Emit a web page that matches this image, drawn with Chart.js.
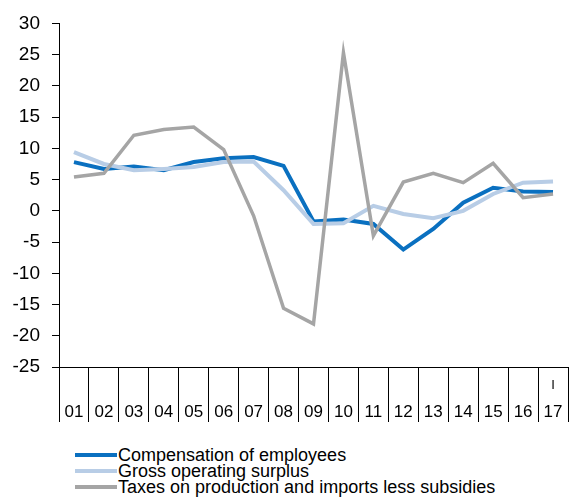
<!DOCTYPE html>
<html>
<head>
<meta charset="utf-8">
<script src="https://cdn.jsdelivr.net/npm/chart.js@4.4.1/dist/chart.umd.min.js"></script>
<style>
    body { margin: 0; background: #fff; }
    #wrap { position: relative; width: 569px; height: 500px; overflow: hidden; }
    #legend { position: absolute; left: 75px; top: 447px; font-family: "Liberation Sans", Arial, sans-serif; font-size: 18px; line-height: 16px; color: #000; }
    .item { display: flex; align-items: center; white-space: nowrap; }
    .swatch { display: inline-block; width: 42px; height: 4px; margin-right: 1px; }
</style>
</head>
<body>
<div id="wrap">
    <canvas id="chart" width="569" height="430"></canvas>
    <div id="legend"></div>
</div>
<script>
// years 2001..2016 and quarter I of 2017
const categories = ['01', '02', '03', '04', '05', '06', '07', '08', '09', '10', '11', '12', '13', '14', '15', '16', '17'];
const quarterMarks = ['', '', '', '', '', '', '', '', '', '', '', '', '', '', '', '', 'I'];

const compensation = [7.8, 6.7, 7.1, 6.5, 7.8, 8.4, 8.6, 7.2, -1.7, -1.4, -2.1, -6.2, -2.9, 1.3, 3.7, 3.1, 3.0];
const grossSurplus = [9.4, 7.5, 6.5, 6.7, 7.0, 7.8, 7.9, 3.3, -2.1, -2.0, 0.8, -0.5, -1.2, 0.0, 2.7, 4.5, 4.7];
const taxesLessSubsidies = [5.4, 6.0, 12.1, 13.0, 13.4, 9.8, -0.8, -15.6, -18.1, 25.3, -4.0, 4.6, 6.0, 4.5, 7.6, 2.1, 2.7];

const yTicks = [30, 25, 20, 15, 10, 5, 0, -5, -10, -15, -20, -25];

const seriesNames = ['Compensation of employees', 'Gross operating surplus', 'Taxes on production and imports less subsidies'];
const seriesColors = ['#0A70C0', '#B8CDE6', '#A5A5A5'];

const fontFamily = '"Liberation Sans", Arial, sans-serif';

// draws the small quarter mark above a category label
const quarterPlugin = {
    id: 'quarterMarks',
    afterDraw(chart) {
        const ctx = chart.ctx;
        const xScale = chart.scales.x;
        ctx.save();
        ctx.font = '13px ' + fontFamily;
        ctx.fillStyle = '#000';
        ctx.textAlign = 'center';
        ctx.textBaseline = 'middle';
        quarterMarks.forEach((m, i) => {
            if (m) ctx.fillText(m, xScale.getPixelForValue(i), xScale.top + 18);
        });
        ctx.restore();
    }
};

const datasets = [compensation, grossSurplus, taxesLessSubsidies].map((vals, i) => ({
    label: seriesNames[i],
    data: vals,
    borderColor: seriesColors[i],
    backgroundColor: seriesColors[i],
    borderWidth: i === 2 ? 3.5 : 4,
    pointRadius: 0,
    tension: 0,
    order: 2 - i // last series drawn on top
}));

new Chart(document.getElementById('chart').getContext('2d'), {
    type: 'line',
    data: { labels: categories, datasets: datasets },
    options: {
        responsive: false,
        animation: false,
        layout: { padding: { top: 21, right: 1, left: 0, bottom: 0 } },
        plugins: {
            legend: { display: false },
            tooltip: { enabled: false }
        },
        scales: {
            x: {
                offset: true,
                grid: {
                    offset: true,
                    drawOnChartArea: false,
                    drawTicks: true,
                    tickLength: 55,
                    tickColor: '#000',
                    tickWidth: 1
                },
                border: { display: true, color: '#000', width: 1 },
                ticks: {
                    color: '#000',
                    font: { family: fontFamily, size: 17 },
                    padding: -20,
                    maxRotation: 0,
                    autoSkip: false
                },
                afterFit(scale) { scale.height = 63; }
            },
            y: {
                min: -25,
                max: 30,
                afterBuildTicks(scale) { scale.ticks = yTicks.map(v => ({ value: v })); },
                grid: {
                    drawOnChartArea: false,
                    drawTicks: true,
                    tickLength: 7,
                    tickColor: '#000'
                },
                border: { display: true, color: '#000', width: 1 },
                ticks: {
                    color: '#000',
                    font: { family: fontFamily, size: 19 },
                    padding: 12
                },
                afterFit(scale) { scale.width = 59; }
            }
        }
    },
    plugins: [quarterPlugin]
});

// legend as html text, one row per series
const legend = document.getElementById('legend');
seriesNames.forEach((name, i) => {
    const row = document.createElement('div');
    row.className = 'item';
    row.innerHTML = `<span class="swatch" style="background:${seriesColors[i]}"></span><span>${name}</span>`;
    legend.appendChild(row);
});
</script>
</body>
</html>
